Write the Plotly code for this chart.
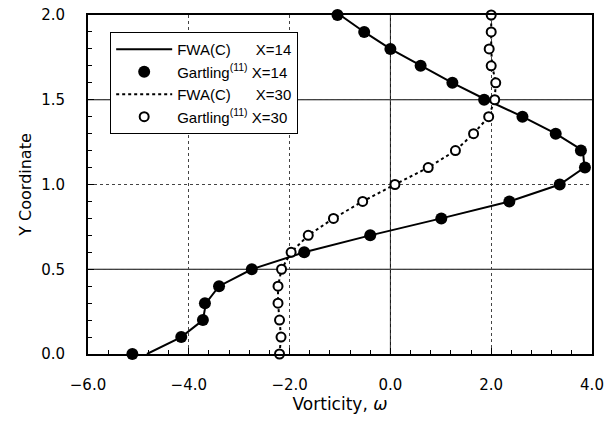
import plotly.graph_objects as go

# ---- data ----
# X=14: FWA(C) line
fwa14_w = [-4.83, -4.15, -3.72, -3.66, -3.40, -2.75, -1.71, -0.40, 1.01, 2.36, 3.36, 3.85, 3.82, 3.28, 2.62, 1.90, 1.23, 0.60, 0.00, -0.52, -1.00]
fwa14_y = [0.0, 0.1, 0.2, 0.3, 0.4, 0.5, 0.6, 0.7, 0.8, 0.9, 1.0, 1.1, 1.2, 1.3, 1.4, 1.5, 1.6, 1.7, 1.8, 1.9, 2.0]
# X=14: Gartling markers
gar14_w = [-5.12, -4.15, -3.72, -3.68, -3.40, -2.75, -1.71, -0.40, 1.01, 2.36, 3.36, 3.86, 3.78, 3.28, 2.62, 1.86, 1.23, 0.60, 0.00, -0.52, -1.05]
gar14_y = [0.0, 0.1, 0.2, 0.3, 0.4, 0.5, 0.6, 0.7, 0.8, 0.9, 1.0, 1.1, 1.2, 1.3, 1.4, 1.5, 1.6, 1.7, 1.8, 1.9, 2.0]
# X=30: FWA(C) line
fwa30_w = [-2.20, -2.17, -2.20, -2.23, -2.23, -2.16, -1.97, -1.63, -1.13, -0.55, 0.09, 0.75, 1.29, 1.65, 1.95, 2.07, 2.09, 2.02, 2.00, 2.00, 2.00]
fwa30_y = [0.0, 0.1, 0.2, 0.3, 0.4, 0.5, 0.6, 0.7, 0.8, 0.9, 1.0, 1.1, 1.2, 1.3, 1.4, 1.5, 1.6, 1.7, 1.8, 1.9, 2.0]
# X=30: Gartling markers
gar30_w = [-2.20, -2.17, -2.20, -2.23, -2.23, -2.16, -1.97, -1.63, -1.13, -0.55, 0.09, 0.75, 1.29, 1.65, 1.95, 2.07, 2.09, 2.00, 1.96, 2.00, 2.00]
gar30_y = [0.0, 0.1, 0.2, 0.3, 0.4, 0.5, 0.6, 0.7, 0.8, 0.9, 1.0, 1.1, 1.2, 1.3, 1.4, 1.5, 1.6, 1.7, 1.8, 1.9, 2.0]

x_ticks = [-6.0, -4.0, -2.0, 0.0, 2.0, 4.0]
x_ticklabels = ["\u22126.0", "\u22124.0", "\u22122.0", "0.0", "2.0", "4.0"]
y_ticks = [0.0, 0.5, 1.0, 1.5, 2.0]
y_ticklabels = ["0.0", "0.5", "1.0", "1.5", "2.0"]

FONT = "DejaVu Sans"
LFONT = "Liberation Sans"
NB = "\u00a0"
SUP = "<sup>(11)</sup>"

fig = go.Figure()
fig.add_trace(go.Scatter(x=fwa14_w, y=fwa14_y, mode="lines",
                         line=dict(color="black", width=2),
                         name="FWA(C)" + NB * 6 + "X=14"))
fig.add_trace(go.Scatter(x=gar14_w, y=gar14_y, mode="markers", cliponaxis=False,
                         marker=dict(color="black", size=12, symbol="circle"),
                         name="Gartling" + SUP + NB + "X=14"))
fig.add_trace(go.Scatter(x=fwa30_w, y=fwa30_y, mode="lines",
                         line=dict(color="black", width=2, dash="dot"),
                         name="FWA(C)" + NB * 6 + "X=30"))
fig.add_trace(go.Scatter(x=gar30_w, y=gar30_y, mode="markers", cliponaxis=False,
                         marker=dict(color="white", size=9, symbol="circle",
                                     line=dict(color="black", width=2)),
                         name="Gartling" + SUP + NB + "X=30"))

axis_common = dict(showline=True, linecolor="black", linewidth=2, mirror=True,
                   ticks="inside", ticklen=6, tickcolor="black", tickwidth=1,
                   showgrid=True, gridcolor="#444", gridwidth=1, griddash="dot",
                   zeroline=False,
                   tickfont=dict(family=FONT, size=15, color="black"))

fig.update_xaxes(range=[-6, 4], tickvals=x_ticks, ticktext=x_ticklabels,
                 minor=dict(dtick=0.4, ticks="inside", ticklen=4, tickcolor="black", showgrid=False),
                 title=dict(text="Vorticity, <i>\u03c9</i>", font=dict(family=FONT, size=17, color="black"), standoff=4),
                 ticklabelstandoff=16, automargin="bottom",
                 **axis_common)
fig.update_yaxes(range=[0, 2], tickvals=y_ticks, ticktext=y_ticklabels,
                 minor=dict(dtick=0.1, ticks="inside", ticklen=4, tickcolor="black", showgrid=False),
                 title=dict(text="Y Coordinate", font=dict(family=FONT, size=16, color="black"), standoff=6),
                 ticklabelstandoff=18, automargin="left",
                 **axis_common)

# solid grid lines
for yv in [0.5, 1.5]:
    fig.add_shape(type="line", xref="paper", yref="y", x0=0, x1=1, y0=yv, y1=yv,
                  line=dict(color="black", width=1), layer="below")
fig.add_shape(type="line", xref="x", yref="paper", x0=0, x1=0, y0=0, y1=1,
              line=dict(color="black", width=1), layer="below")

fig.update_layout(
    width=613, height=423,
    margin=dict(l=88, r=21, t=15, b=69),
    paper_bgcolor="white", plot_bgcolor="white",
    showlegend=True,
    legend=dict(x=0.044, y=0.95, xanchor="left", yanchor="top",
                bgcolor="white", bordercolor="black", borderwidth=1,
                font=dict(family=LFONT, size=15, color="black"),
                itemwidth=56, tracegroupgap=0),
)

fig.write_html("out.html")
